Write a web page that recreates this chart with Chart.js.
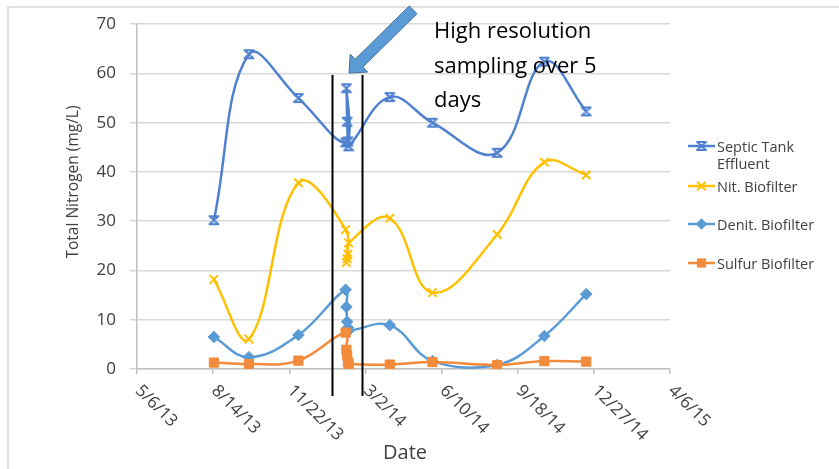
<!DOCTYPE html>
<html>
<head>
<meta charset="utf-8">
<script src="https://cdn.jsdelivr.net/npm/chart.js@4.4.1/dist/chart.umd.min.js"></script>
<style>
  html, body { margin: 0; padding: 0; background: #ffffff; }
  #wrap { width: 839px; height: 469px; position: relative; }
</style>
</head>
<body>
<div id="wrap"><canvas id="chart" width="839" height="469"></canvas></div>
<script>
// Sampling dates (m/d/yy); the five February dates are the high resolution run
const sampleDates = ['8/15/13', '9/30/13', '12/4/13', '2/4/14', '2/5/14', '2/6/14', '2/7/14', '2/8/14',
                     '4/3/14', '5/29/14', '8/22/14', '10/23/14', '12/17/14'];

// Total nitrogen, mg/L
const septicTank      = [30.2, 63.9, 55.0, 46.0, 57.0, 50.2, 46.2, 45.2, 55.2, 50.0, 43.9, 62.4, 52.3];
const nitBiofilter    = [18.2, 6.1, 37.8, 28.3, 21.6, 22.4, 23.3, 25.6, 30.6, 15.5, 27.3, 42.0, 39.4];
const denitBiofilter  = [6.5, 2.4, 6.9, 16.1, 12.6, 9.6, 8.4, 7.8, 8.9, 1.6, 0.8, 6.7, 15.2];
const sulfurBiofilter = [1.3, 1.0, 1.7, 7.4, 3.9, 2.8, 1.4, 1.0, 0.9, 1.4, 0.8, 1.6, 1.5];

const seriesNames = ['Septic Tank Effluent', 'Nit. Biofilter', 'Denit. Biofilter', 'Sulfur Biofilter'];
const legendLines = [['Septic Tank', 'Effluent'], ['Nit. Biofilter'], ['Denit. Biofilter'], ['Sulfur Biofilter']];

// Axis ticks
const dateTicks = ['5/6/13', '8/14/13', '11/22/13', '3/2/14', '6/10/14', '9/18/14', '12/27/14', '4/6/15'];
const yTicks = [0, 10, 20, 30, 40, 50, 60, 70];

const annotationLines = ['High resolution', 'sampling over 5', 'days'];

const FONT = "'Open Sans', 'Noto Sans', sans-serif";
const TEXT = '#404040';

// Spreadsheet-style day serial so the x axis is a plain linear scale
function toSerial(s) {
  const [m, d, y] = s.split('/').map(Number);
  return Date.UTC(2000 + y, m - 1, d) / 86400000 + 25569;
}
const xs = sampleDates.map(toSerial);
const pts = vals => vals.map((v, i) => ({ x: xs[i], y: v }));

// Star marker: an X closed by short bars at top and bottom
function starMarker(color) {
  const c = document.createElement('canvas');
  c.width = 14; c.height = 12;
  const g = c.getContext('2d');
  g.strokeStyle = color; g.lineWidth = 2; g.lineCap = 'round';
  g.beginPath();
  g.moveTo(2.5, 2); g.lineTo(11.5, 10);
  g.moveTo(11.5, 2); g.lineTo(2.5, 10);
  g.moveTo(3.5, 2); g.lineTo(10.5, 2);
  g.moveTo(3.5, 10); g.lineTo(10.5, 10);
  g.stroke();
  return c;
}

const colors = ['#4f81cf', '#ffc000', '#5b9bd5', '#f28b3b'];
const markerStyles = [starMarker(colors[0]), 'crossRot', 'rectRot', 'rect'];
const markerRadius = [6, 6, 5.8, 6.5];
const seriesValues = [septicTank, nitBiofilter, denitBiofilter, sulfurBiofilter];

const datasets = seriesValues.map((vals, i) => ({
  label: seriesNames[i],
  data: pts(vals),
  borderColor: colors[i],
  backgroundColor: colors[i],
  borderWidth: 2.5,
  tension: 0.4,
  pointStyle: markerStyles[i],
  pointRadius: markerRadius[i],
  pointBorderWidth: i === 1 ? 2 : 1,
  pointBackgroundColor: colors[i],
  pointBorderColor: colors[i],
  order: 4 - i
}));

function drawMarker(ctx, i, x, y) {
  const st = markerStyles[i], r = markerRadius[i], col = colors[i];
  ctx.save();
  ctx.fillStyle = col; ctx.strokeStyle = col;
  if (typeof st !== 'string') {
    ctx.drawImage(st, x - st.width / 2, y - st.height / 2);
  } else if (st === 'rect') {
    const s = r * Math.SQRT1_2;
    ctx.fillRect(x - s, y - s, 2 * s, 2 * s);
  } else if (st === 'rectRot') {
    ctx.beginPath();
    ctx.moveTo(x, y - r); ctx.lineTo(x + r, y); ctx.lineTo(x, y + r); ctx.lineTo(x - r, y);
    ctx.closePath(); ctx.fill();
  } else if (st === 'crossRot') {
    const o = r * Math.SQRT1_2;
    ctx.lineWidth = 2;
    ctx.beginPath();
    ctx.moveTo(x - o, y - o); ctx.lineTo(x + o, y + o);
    ctx.moveTo(x + o, y - o); ctx.lineTo(x - o, y + o);
    ctx.stroke();
  }
  ctx.restore();
}

const decorations = {
  id: 'decorations',
  beforeDraw(chart) {
    const ctx = chart.ctx;
    ctx.save();
    ctx.fillStyle = '#ffffff';
    ctx.fillRect(0, 0, chart.width, chart.height);
    // outer frame
    ctx.strokeStyle = '#d9d9d9';
    ctx.lineWidth = 1.5;
    ctx.beginPath();
    ctx.moveTo(8, chart.height); ctx.lineTo(8, 7); ctx.lineTo(chart.width, 7);
    ctx.stroke();
    ctx.restore();
  },
  afterDraw(chart) {
    const ctx = chart.ctx;
    const xScale = chart.scales.x;
    ctx.save();

    // rotated date labels
    ctx.fillStyle = TEXT;
    ctx.font = `17px ${FONT}`;
    ctx.textAlign = 'left';
    ctx.textBaseline = 'middle';
    dateTicks.forEach(t => {
      const px = xScale.getPixelForValue(toSerial(t));
      ctx.save();
      ctx.translate(px + 1, 388);
      ctx.rotate(Math.PI / 4);
      ctx.fillText(t, 0, 0);
      ctx.restore();
    });

    // axis titles
    ctx.font = `20px ${FONT}`;
    ctx.textAlign = 'center';
    ctx.fillText('Date', 405, 453);
    ctx.save();
    ctx.translate(74, 182);
    ctx.rotate(-Math.PI / 2);
    ctx.font = `15.5px ${FONT}`;
    ctx.fillText('Total Nitrogen (mg/L)', 0, 0);
    ctx.restore();

    // legend
    ctx.font = `14.5px ${FONT}`;
    ctx.textAlign = 'left';
    const legendY = [146, 186, 224, 263];
    legendLines.forEach((lines, i) => {
      const y = legendY[i];
      ctx.strokeStyle = colors[i];
      ctx.lineWidth = 2.5;
      ctx.beginPath(); ctx.moveTo(688, y); ctx.lineTo(715, y); ctx.stroke();
      drawMarker(ctx, i, 701.5, y);
      ctx.fillStyle = TEXT;
      lines.forEach((ln, k) => ctx.fillText(ln, 717, y + 1.5 + k * 17));
    });

    // bracket around the high resolution sampling window
    ctx.strokeStyle = '#000000';
    ctx.lineWidth = 2;
    [332.5, 362.5].forEach(x => {
      ctx.beginPath(); ctx.moveTo(x, 75); ctx.lineTo(x, 396); ctx.stroke();
    });

    // block arrow pointing at the window
    const T = { x: 349, y: 73 };
    const u = { x: 0.713, y: -0.702 };
    const p = { x: 0.702, y: 0.713 };
    const at = (d, w) => [T.x + u.x * d + p.x * w, T.y + u.y * d + p.y * w];
    const poly = [[T.x, T.y], at(14, 12.5), at(14, 5.5), at(90, 5.5), at(90, -5.5), at(14, -5.5), at(14, -12.5)];
    ctx.beginPath();
    poly.forEach(([x, y], k) => k ? ctx.lineTo(x, y) : ctx.moveTo(x, y));
    ctx.closePath();
    ctx.fillStyle = '#5b9bd5';
    ctx.fill();
    ctx.strokeStyle = '#41719c';
    ctx.lineWidth = 1;
    ctx.stroke();

    // annotation text
    ctx.fillStyle = '#000000';
    ctx.font = `22px ${FONT}`;
    ctx.textBaseline = 'middle';
    annotationLines.forEach((ln, k) => ctx.fillText(ln, 434, 32 + k * 34.5));

    ctx.restore();
  }
};

new Chart(document.getElementById('chart'), {
  type: 'line',
  data: { datasets },
  options: {
    responsive: false,
    animation: false,
    events: [],
    layout: { padding: { top: 24, right: 169, bottom: 0, left: 0 } },
    plugins: { legend: { display: false }, tooltip: { enabled: false } },
    scales: {
      x: {
        type: 'linear',
        min: toSerial(dateTicks[0]),
        max: toSerial(dateTicks[dateTicks.length - 1]),
        afterBuildTicks: s => { s.ticks = dateTicks.map(t => ({ value: toSerial(t) })); },
        ticks: { display: false },
        grid: { drawOnChartArea: false, drawTicks: true, tickLength: 5, color: '#c0c0c0', lineWidth: 1.5 },
        border: { display: true, color: '#c0c0c0', width: 1.5 },
        afterFit: s => { s.height = 100; }
      },
      y: {
        min: 0,
        max: 70,
        afterBuildTicks: s => { s.ticks = yTicks.map(v => ({ value: v })); },
        ticks: { font: { family: FONT, size: 17 }, color: TEXT, padding: 14 },
        grid: { color: '#d9d9d9', lineWidth: 1.5, drawTicks: true, tickLength: 7 },
        border: { display: true, color: '#c0c0c0', width: 1.5 },
        afterFit: s => { s.width = 137; }
      }
    }
  },
  plugins: [decorations]
});
</script>
</body>
</html>
